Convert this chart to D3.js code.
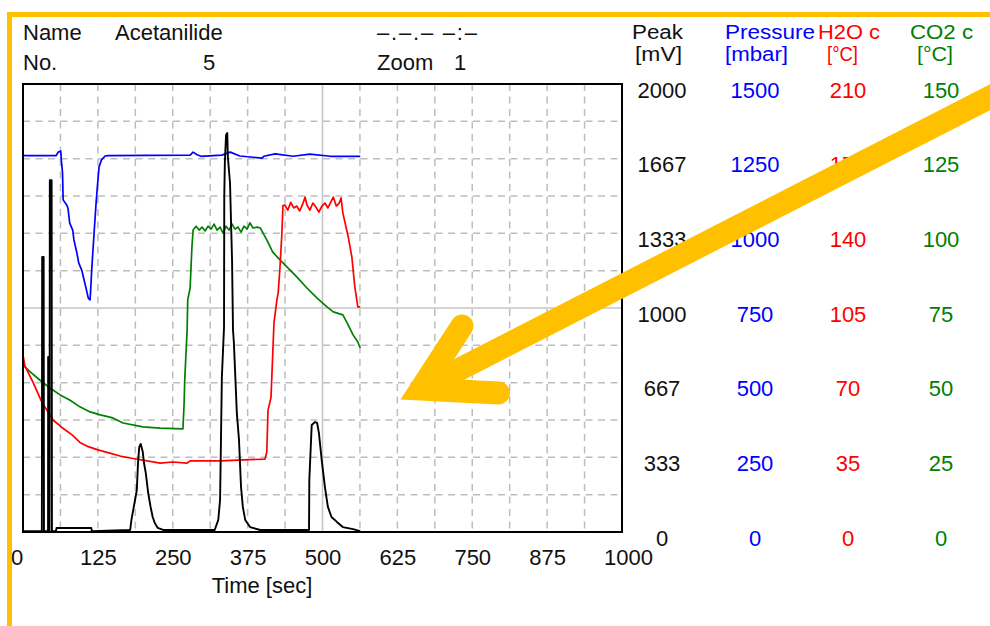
<!DOCTYPE html>
<html>
<head>
<meta charset="utf-8">
<script src="https://cdn.jsdelivr.net/npm/d3@7/dist/d3.min.js"></script>
<style>
  html, body { margin: 0; padding: 0; background: #ffffff; }
  svg { display: block; }
  text { font-family: "Liberation Sans", Arial, sans-serif; }
</style>
</head>
<body>
<svg id="chart" width="990" height="626"></svg>
<script>
// ---------------- DATA ----------------
const timeTicks = [0, 125, 250, 375, 500, 625, 750, 875, 1000];
const peakTicks = [0, 333, 667, 1000, 1333, 1667, 2000];
const pressureTicks = [0, 250, 500, 750, 1000, 1250, 1500];
const h2oTicks = [0, 35, 70, 105, 140, 175, 210];
const co2Ticks = [0, 25, 50, 75, 100, 125, 150];

// Pressure [mbar]
const pressureTime = [0,55,59,63,64,66,67,73,75,78,83,85,90,93,98,102,106,109,112,115,119,122,124,127,131,137,142,279,284,290,297,332,346,362,399,402,421,451,479,513,563];
const pressureValue = [1260,1260,1272,1276,1245,1202,1112,1095,1085,1034,1011,978,934,901,877,844,810,783,777,887,1011,1101,1152,1222,1246,1259,1260,1262,1272,1264,1258,1262,1272,1259,1252,1258,1266,1258,1265,1258,1258];

// H2O column temperature [°C]
const h2oTime = [0,3,17,32,45,50,65,82,95,109,125,145,162,179,229,250,274,279,329,404,407,409,414,417,419,424,426,429,432,434,
  437,442,447,452,457,462,467,471,474,479,484,489,494,499,504,509,514,518,523,528,531,
  534,543,549,554,559,563];
const h2oValue = [83,78,70,60.5,55,52.5,49,45.5,42,40,38.5,37,35.6,34.7,32.3,32.8,32.3,33.3,33.3,34.2,37.5,57,63,84,98,109,112,124,139,153,
  153.3,150.9,154.5,151.9,152.8,150.5,153.8,157,153.3,150.9,154.2,152.3,150,152.8,154.2,151.9,154.7,157,152.8,154.2,156.6,
  149.5,138.3,128.9,114.8,105.5,105.5];

// CO2 column temperature [°C]
const co2Time = [0,12,28,45,62,78,95,112,129,150,167,200,229,267,269,270,274,275,279,282,284,
  289,294,299,304,309,314,319,324,329,334,339,344,349,354,359,364,369,374,379,384,391,
  396,407,417,429,441,457,474,491,508,518,534,543,551,559,563];
const co2Value = [55.9,53.6,50.9,48.2,45.9,44.2,41.9,40.2,39.2,38.2,36.5,35.2,34.8,34.5,43.2,50.9,67.6,77.7,81.7,95.4,101.1,
  102.4,101.1,102.1,100.8,102.4,101.4,103.1,101.1,102.1,100.1,102.4,101.1,103.1,101.4,102.1,100.4,102.4,101.4,103.5,101.8,102.1,
  101.8,97.8,93.7,91.1,88.7,85.4,81.7,78.3,75.3,73.7,72.7,69.3,66.0,63.6,61.6];

// Detector peak [mV]
const peakTime = [0,25,29,31.5,32,34.5,35,41.8,42,42.4,42.6,44.3,44.8,47.8,48.3,55,56,114,115,179,181,184,187,190,192,194,196.5,200,202,205,209,213,216.5,220,225,234,320,326,329,330.5,332,335.6,336,337,339,341,342,345.6,349,350.6,352,357,360.6,364,367,371,379,396,477.5,478,482,487.5,491,494,498.7,504,509,515,524,534,551,563];
const peakValue = [4,4,4,4,1228,1228,4,4,781,781,4,4,1571,1571,4,4,18,18,4,9,54,98,143,187,308,379,393,357,308,263,174,112,67,40,18,9,9,54,143,411,692,915,1496,1652,1772,1781,1674,1558,1214,902,848,531,411,201,112,54,22,9,9,232,478,491,487,442,321,201,112,67,45,22,13,4];

// ---------------- LAYOUT ----------------
const W = 990, H = 626;
const L = 23, R = 622, T = 84, B = 532;
const svg = d3.select("#chart");
svg.append("rect").attr("width", W).attr("height", H).attr("fill", "#ffffff");

const x = d3.scaleLinear().domain([0, 1000]).range([L, R]);
const yPeak = d3.scaleLinear().domain([0, 2000]).range([B, T]);
const yPres = d3.scaleLinear().domain([0, 1500]).range([B, T]);
const yH2O = d3.scaleLinear().domain([0, 210]).range([B, T]);
const yCO2 = d3.scaleLinear().domain([0, 150]).range([B, T]);

// grid
const gridX = d3.range(1, 16).map(i => i * 62.5);
const gridY = d3.range(1, 12).map(i => i * 2000 / 12);
const grid = svg.append("g");
grid.selectAll("line.gx").data(gridX.filter(d => d !== 500)).join("line")
  .attr("x1", d => x(d)).attr("x2", d => x(d)).attr("y1", T).attr("y2", B)
  .attr("stroke", "#bdbdbd").attr("stroke-width", 1.5).attr("stroke-dasharray", "7,5.5");
grid.selectAll("line.gy").data(gridY.filter(d => Math.abs(d - 1000) > 1)).join("line")
  .attr("x1", L).attr("x2", R).attr("y1", d => yPeak(d)).attr("y2", d => yPeak(d))
  .attr("stroke", "#bdbdbd").attr("stroke-width", 1.5).attr("stroke-dasharray", "7,5.5");
grid.append("line").attr("x1", x(500)).attr("x2", x(500)).attr("y1", T).attr("y2", B)
  .attr("stroke", "#c4c4c4").attr("stroke-width", 1.5);
grid.append("line").attr("x1", L).attr("x2", R).attr("y1", yPeak(1000)).attr("y2", yPeak(1000))
  .attr("stroke", "#c4c4c4").attr("stroke-width", 1.5);

// series
function drawSeries(ts, vs, yScale, color, width) {
  const pts = ts.map((t, i) => [t, vs[i]]);
  svg.append("path").datum(pts)
    .attr("d", d3.line().x(d => x(d[0])).y(d => yScale(d[1])))
    .attr("fill", "none").attr("stroke", color).attr("stroke-width", width)
    .attr("stroke-linejoin", "round");
}
drawSeries(pressureTime, pressureValue, yPres, "#0000ff", 1.7);
drawSeries(co2Time, co2Value, yCO2, "#008000", 1.7);
drawSeries(h2oTime, h2oValue, yH2O, "#ff0000", 1.7);
drawSeries(peakTime, peakValue, yPeak, "#000000", 1.9);

// frame
svg.append("rect").attr("x", L).attr("y", T).attr("width", R - L).attr("height", B - T)
  .attr("fill", "none").attr("stroke", "#000").attr("stroke-width", 2);

// x axis
const xAxis = svg.append("g").attr("transform", `translate(0,${B})`)
  .call(d3.axisBottom(x).tickValues(timeTicks).tickSize(0).tickPadding(0).tickFormat(d3.format("d")));
xAxis.select(".domain").remove();
xAxis.selectAll("text")
  .attr("y", 33).attr("dy", null)
  .attr("dx", d => d === 0 ? -6.5 : (d === 1000 ? 6 : 0))
  .attr("font-size", 22).attr("fill", "#111")
  .style("font-family", "'Liberation Sans', Arial, sans-serif");
svg.append("text").attr("x", 262).attr("y", 592.5).attr("text-anchor", "middle")
  .attr("font-size", 22).attr("fill", "#111").text("Time [sec]");

// right value columns
const columns = [
  { ticks: peakTicks, scale: yPeak, cx: 662, color: "#111" },
  { ticks: pressureTicks, scale: yPres, cx: 755, color: "#0000ff" },
  { ticks: h2oTicks, scale: yH2O, cx: 848, color: "#ff0000" },
  { ticks: co2Ticks, scale: yCO2, cx: 941, color: "#008000" }
];
columns.forEach(c => {
  svg.append("g").selectAll("text").data(c.ticks).join("text")
    .attr("x", c.cx).attr("y", d => c.scale(d) + 6).attr("dy", "0.35em")
    .attr("text-anchor", "middle").attr("font-size", 22).attr("fill", c.color)
    .text(d => d);
});

// headers
function label(txt, xx, yy, color, opts = {}) {
  const t = svg.append("text").attr("x", xx).attr("y", yy)
    .attr("font-size", opts.size || 22).attr("fill", color).text(txt);
  if (opts.anchor) t.attr("text-anchor", opts.anchor);
  if (opts.len) t.attr("textLength", opts.len).attr("lengthAdjust", opts.adjust || "spacing");
  return t;
}
label("Name", 23, 40, "#111");
label("Acetanilide", 115, 40, "#111");
label("No.", 23, 70, "#111");
label("5", 209, 70, "#111", { anchor: "middle" });
label("–.–.– –:–", 377, 40, "#111", { len: 100 });
label("Zoom", 377, 70, "#111");
label("1", 460, 70, "#111", { anchor: "middle" });

const hdr = { size: 19.5, adjust: "spacingAndGlyphs" };
label("Peak", 632, 39, "#111", { ...hdr, len: 51 });
label("[mV]", 635, 61, "#111", { ...hdr, len: 47 });
label("Pressure", 725, 39, "#0000ff", { ...hdr, len: 90 });
label("[mbar]", 725, 61, "#0000ff", { ...hdr, len: 63 });
label("H2O c", 818, 39, "#ff0000", { ...hdr, len: 62 });
label("[°C]", 827, 61, "#ff0000", { ...hdr, len: 31 });
label("CO2 c", 910, 39, "#008000", { ...hdr, len: 63 });
label("[°C]", 917, 61, "#008000", { ...hdr, len: 36 });

// yellow annotation frame + arrow
const gold = "#FFC000";
svg.append("rect").attr("x", 9.5).attr("y", 14.5).attr("width", 1000).attr("height", 700)
  .attr("fill", "none").attr("stroke", gold).attr("stroke-width", 5);
svg.append("line").attr("x1", 1012).attr("y1", 86).attr("x2", 421).attr("y2", 389)
  .attr("stroke", gold).attr("stroke-width", 23);
svg.append("path").attr("d", "M462,326 L421,389 L498.5,393")
  .attr("fill", "none").attr("stroke", gold).attr("stroke-width", 23)
  .attr("stroke-linecap", "round").attr("stroke-linejoin", "miter");
</script>
</body>
</html>
